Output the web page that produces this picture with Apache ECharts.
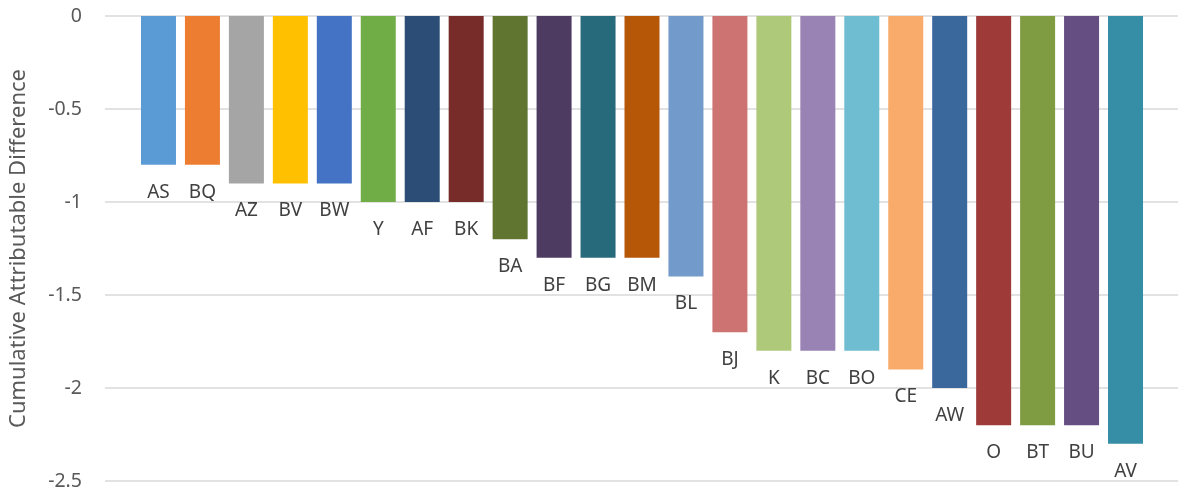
<!DOCTYPE html>
<html>
<head>
<meta charset="utf-8">
<script src="https://cdn.jsdelivr.net/npm/echarts@6/dist/echarts.min.js"></script>
<style>html,body{margin:0;padding:0;background:#fff;}#c{width:1178px;height:495px;}</style>
</head>
<body>
<div id="c"></div>
<script>
const categories = ['AS','BQ','AZ','BV','BW','Y','AF','BK','BA','BF','BG','BM','BL','BJ','K','BC','BO','CE','AW','O','BT','BU','AV'];
const values = [-0.8,-0.8,-0.9,-0.9,-0.9,-1,-1,-1,-1.2,-1.3,-1.3,-1.3,-1.4,-1.7,-1.8,-1.8,-1.8,-1.9,-2.0,-2.2,-2.2,-2.2,-2.3];
const palette = ['#5B9BD5','#ED7D31','#A5A5A5','#FFC000','#4472C4','#70AD47','#2C4D75','#772C2A','#5F7530','#4D3B62','#276A7C','#B65708','#729ACA','#CD7371','#AFC97A','#9983B5','#6FBDD1','#F9AB6B','#3A679C','#9E3A38','#7F9C42','#654F82','#368DA6'];
const yTicks = {min:-2.5, max:0, interval:0.5};
const yAxisTitle = 'Cumulative Attributable Difference';

const chart = echarts.init(document.getElementById('c'));
const font = "'Noto Sans', 'Open Sans', sans-serif";
chart.setOption({
  animation:false,
  grid:[
    {left:103, right:0, top:16, bottom:14},
    {left:136.5, right:30.5, top:16, bottom:14}
  ],
  xAxis:[
    {gridIndex:0, type:'category', data:[''], show:false},
    {gridIndex:1, type:'category', data:categories, show:false}
  ],
  yAxis:[
    {gridIndex:0, type:'value', min:yTicks.min, max:yTicks.max, interval:yTicks.interval,
     axisLine:{show:false}, axisTick:{show:false},
     axisLabel:{color:'#595959', fontSize:19.5, fontFamily:font, margin:23},
     splitLine:{lineStyle:{color:'#D9D9D9', width:1.5}},
     name:yAxisTitle, nameLocation:'middle', nameGap:75,
     nameTextStyle:{color:'#595959', fontSize:22, fontFamily:font}},
    {gridIndex:1, type:'value', min:yTicks.min, max:yTicks.max, interval:yTicks.interval, show:false}
  ],
  series:[{
    type:'bar', xAxisIndex:1, yAxisIndex:1,
    barWidth:35,
    data: values.map((v,i)=>({value:v, itemStyle:{color:palette[i % palette.length]}})),
    label:{show:true, position:'outside', distance:18, formatter:(p)=>categories[p.dataIndex],
      color:'#404040', fontSize:19, fontFamily:font}
  }]
});
</script>
</body>
</html>
